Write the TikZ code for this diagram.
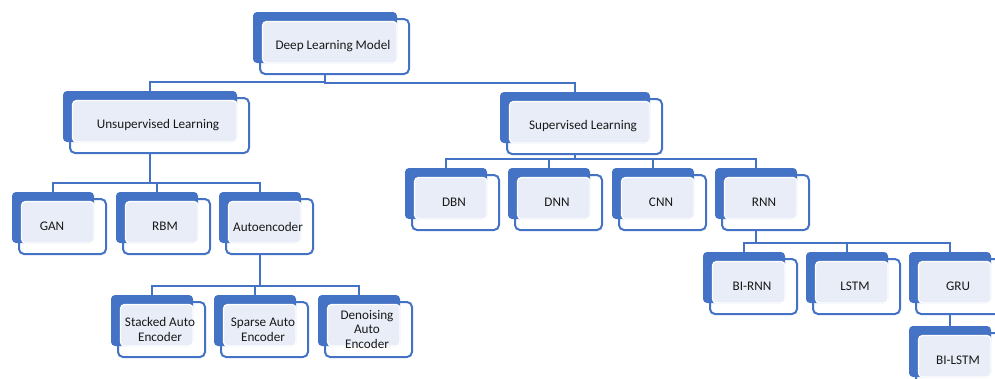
\documentclass[tikz,border=0pt]{standalone}
\usepackage{fontspec}
\setmainfont{Carlito}
\usepackage{tikz}
\usetikzlibrary{positioning,calc}

\definecolor{accent}{HTML}{4472C4}
\definecolor{paleblue}{HTML}{E9EDF7}

\tikzset{
  backbox/.style={fill=accent, rounded corners=0.8mm, minimum height=10.2mm, inner sep=0pt, outer sep=0pt, anchor=north west},
  framebox/.style={draw=accent, fill=white, line width=0.4mm, rounded corners=1mm, minimum height=11mm, inner sep=0pt, outer sep=0pt, anchor=north west},
  boxtext/.style={text=black!90, align=center, inner sep=0pt, font=\fontsize{7.5}{8.3}\selectfont},
  link/.style={draw=accent, line width=0.4mm},
}

% #1 text options, #2 name, #3 top left corner, #4 width, #5 text
\newcommand{\orgbox}[5][]{%
  \node[framebox, minimum width=#4+1mm] (#2-f) at ($#3+(7,7)$) {};
  \node[backbox, minimum width=#4] (#2) at #3 {};
  \draw[white, fill=paleblue, line width=0.25mm, rounded corners=0.8mm] ($(#2-f.north west)+(2.5,2.5)$) rectangle (#2.south east);
  \node[boxtext, #1] (#2-t) at ($(#2.center)+(8,9)$) {#5};
}

% parent -> child, bus line just above the child
\newcommand{\orglink}[2]{%
  \draw[link] (#1.south |- #1-f.south) |- ([yshift=1.9mm]#2.north) -- (#2.north);
}

\begin{document}
\begin{tikzpicture}[x=0.2mm, y=-0.2mm]
  \useasboundingbox (0,0) rectangle (995,378);

  \orgbox{dlm}{(253,12)}{28.8mm}{Deep Learning Model}
  \orgbox{unsup}{(63,91)}{34.8mm}{Unsupervised Learning}
  \orgbox{sup}{(500,92)}{30mm}{Supervised Learning}

  % unsupervised branch
  \orgbox[xshift=-1.8mm]{gan}{(12,192)}{16.4mm}{GAN}
  \orgbox{rbm}{(116,192)}{16.4mm}{RBM}
  \orgbox{auto}{(219,192)}{16.4mm}{Autoencoder}
  \orgbox{sae}{(111,295)}{16.4mm}{Stacked Auto\\Encoder}
  \orgbox{spae}{(214,295)}{16.4mm}{Sparse Auto\\Encoder}
  \orgbox{dae}{(318,295)}{16.4mm}{Denoising\\Auto\\Encoder}

  % supervised branch
  \orgbox{dbn}{(405,168)}{16.4mm}{DBN}
  \orgbox{dnn}{(508,168)}{16.4mm}{DNN}
  \orgbox{cnn}{(612,168)}{16.4mm}{CNN}
  \orgbox{rnn}{(715,168)}{16.4mm}{RNN}
  \orgbox{birnn}{(703,252)}{16.4mm}{BI-RNN}
  \orgbox{lstm}{(806,252)}{16.4mm}{LSTM}
  \orgbox{gru}{(909,252)}{16.4mm}{GRU}
  \orgbox{bilstm}{(909,326)}{16.4mm}{BI-LSTM}

  \foreach \c in {unsup,sup} {\orglink{dlm}{\c}}
  \foreach \c in {gan,rbm,auto} {\orglink{unsup}{\c}}
  \foreach \c in {sae,spae,dae} {\orglink{auto}{\c}}
  \foreach \c in {dbn,dnn,cnn,rnn} {\orglink{sup}{\c}}
  \foreach \c in {birnn,lstm,gru} {\orglink{rnn}{\c}}
  \draw[link] (gru.south |- gru-f.south) -- (bilstm.north);
\end{tikzpicture}
\end{document}
